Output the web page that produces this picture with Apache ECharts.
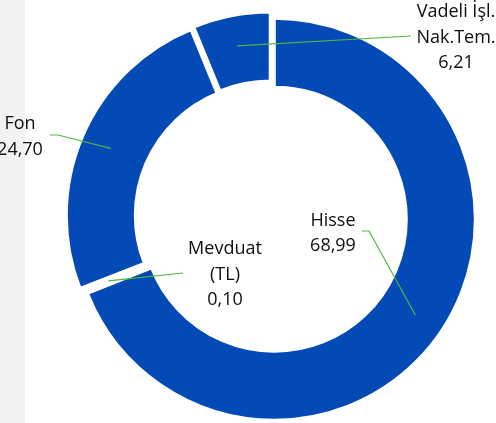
<!DOCTYPE html>
<html><head><meta charset="utf-8">
<script src="https://cdn.jsdelivr.net/npm/echarts@6/dist/echarts.min.js"></script>
<style>html,body{margin:0;padding:0;background:#fff}#c{width:496px;height:423px}</style>
</head><body><div id="c"></div>
<script>
const categories = ['Hisse', 'Mevduat\n(TL)', 'Fon', 'Vadeli İşl.\nNak.Tem.'];
const values = [68.99, 0.10, 24.70, 6.21];

// label placement (text block centre) and leader line end points near the labels
const labelPos = [[333, 233.5], [225, 274.5], [20, 137], [456, 37.5]];
const lineEnds = [[[369, 231], [362, 231]], [[183, 273], [183, 273]], [[58, 135], [50, 135]], [[411, 36], [411, 36]]];

const CX = 271, CY = 217, R0 = 132, R1 = 201, OFFSET = 4;
const total = values.reduce((a, b) => a + b, 0);
const midAngles = [];
let acc = 0;
values.forEach(v => { midAngles.push((acc + v / 2) / total * 2 * Math.PI); acc += v; });

const blue = '#034AB7';
const chart = echarts.init(document.getElementById('c'), null, {renderer: 'canvas'});

function shiftedCenter(k) {
  const a = midAngles[k];
  return [CX + OFFSET * Math.sin(a), CY - OFFSET * Math.cos(a)];
}

// one pie series per slice so each slice can be pulled out along its own mid angle
const series = categories.map((cat, k) => ({
  type: 'pie',
  silent: true,
  center: shiftedCenter(k),
  radius: [R0, R1],
  startAngle: 90,
  clockwise: true,
  z: 2,
  itemStyle: {color: 'transparent', borderColor: 'transparent', borderWidth: 0},
  emphasis: {disabled: true},
  label: {show: false},
  labelLine: {show: false},
  data: categories.map((c, i) => i === k ? {
    name: c, value: values[i],
    itemStyle: {color: blue, borderColor: '#fff', borderWidth: 3}
  } : {name: c, value: values[i]})
}));

// transparent pie on top that only carries the data labels and leader lines
series.push({
  type: 'pie',
  silent: true,
  center: [CX, CY],
  radius: [R0, R1],
  startAngle: 90,
  clockwise: true,
  avoidLabelOverlap: false,
  z: 10,
  itemStyle: {color: 'transparent', borderColor: 'transparent', borderWidth: 0},
  emphasis: {disabled: true},
  label: {
    show: true,
    position: 'outside',
    color: '#0d0d0d',
    fontFamily: 'Open Sans',
    fontSize: 18,
    lineHeight: 25.5,
    align: 'center',
    formatter: p => p.name + '\n' + p.value.toFixed(2).replace('.', ',')
  },
  labelLine: {show: true, showAbove: true, length: 10, length2: 10, smooth: false, lineStyle: {color: '#4DB83D', width: 1.2}},
  labelLayout: function (params) {
    const i = params.dataIndex;
    const c = shiftedCenter(i);
    const rm = (R0 + R1) / 2 + 4;
    const anchor = [c[0] + rm * Math.sin(midAngles[i]), c[1] - rm * Math.cos(midAngles[i])];
    return {
      x: labelPos[i][0], y: labelPos[i][1],
      align: 'center', verticalAlign: 'middle',
      labelLinePoints: [anchor, lineEnds[i][0], lineEnds[i][1]]
    };
  },
  data: categories.map((c, i) => ({name: c, value: values[i]}))
});

chart.setOption({
  animation: false,
  graphic: [{type: 'rect', left: 0, top: 0, z: -10, shape: {width: 25, height: 423}, style: {fill: '#F2F2F2'}}],
  series: series
});
</script></body></html>
